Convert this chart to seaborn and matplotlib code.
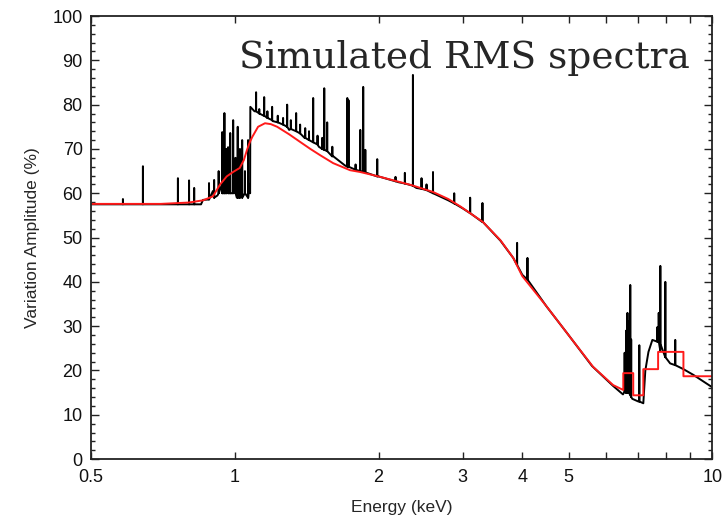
'''
simulated rms spectrum: high-res variation amplitude vs energy with the binned model on top
'''

import numpy as np
import pandas as pd
import matplotlib
matplotlib.use('Agg')
import matplotlib.pyplot as plt
import seaborn as sns

# black curve, continuum (keV, %)
cont_e = [0.5, 0.85, 0.858, 0.88, 0.90, 0.92, 0.94, 0.95, 0.965, 0.98, 0.995, 1.01,
          1.03, 1.05, 1.066, 1.072, 1.077, 1.078, 1.10, 1.15, 1.20, 1.30, 1.40, 1.50,
          1.60, 1.70, 1.83, 2.0, 2.2, 2.4, 2.6, 2.8, 3.0, 3.3, 3.6, 3.83, 4.0, 4.5,
          5.0, 5.6, 6.2, 6.5, 6.6, 6.8, 7.0, 7.17, 7.24, 7.35, 7.49, 7.67, 7.78, 8.16,
          8.70, 9.13, 10.0]
cont_v = [57.5, 57.5, 58.5, 58.6, 60.5, 59.5, 62.0, 60.0, 63.0, 60.0, 62.0, 59.0,
          63.0, 60.0, 59.0, 62.0, 60.0, 79.5, 78.5, 77.5, 76.3, 74.3, 72.5, 70.5,
          68.3, 66.3, 65.0, 63.8, 62.5, 61.2, 60.0, 58.4, 56.6, 53.5, 49.3, 45.4, 41.6, 34.4,
          28.0, 21.0, 16.5, 14.6, 14.9, 13.6, 13.0, 12.6, 20.0, 24.2, 26.9, 26.5, 24.5, 21.6,
          20.3, 19.0, 16.2]

# narrow lines on top of the continuum
spike_e = [0.583, 0.642, 0.760, 0.802, 0.822, 0.883,
           0.905, 0.925, 0.941, 0.951, 0.960, 0.968, 0.978, 0.992, 1.003, 1.014, 1.025,
           1.036, 1.050, 1.066,
           1.108, 1.125, 1.152, 1.17, 1.197, 1.23, 1.262, 1.287, 1.31, 1.344, 1.37, 1.404,
           1.43, 1.459, 1.49, 1.524, 1.539, 1.561, 1.60, 1.72, 1.73, 1.79, 1.831, 1.857,
           1.876, 1.987, 2.17, 2.27, 2.36, 2.46, 2.52, 2.60, 2.88, 3.11, 3.30, 3.90, 4.10,
           6.55, 6.60, 6.64, 6.68, 6.73, 6.76, 7.03, 7.67, 7.72, 7.78, 7.97, 8.36]
spike_lo = [57.5, 57.5, 57.5, 57.5, 57.5, 58.6,
            59.0, 60.0, 60.0, 60.0, 60.0, 60.0, 60.0, 60.0, 60.0, 59.0, 59.0,
            59.0, 60.0, 59.0,
            78.5, 78.0, 77.5, 77.0, 76.5, 76.0, 75.5, 75.0, 74.5, 74.0, 73.5, 72.5,
            72.0, 71.5, 71.0, 70.0, 69.8, 69.5, 68.5, 66.0, 66.0, 65.3, 65.0, 64.8,
            64.7, 63.8, 62.7, 62.2, 61.7, 61.0, 60.7, 60.0, 57.7, 55.5, 53.6, 43.8, 40.5,
            15.2, 15.0, 15.0, 15.0, 14.5, 14.0, 13.0, 26.5, 26.5, 26.0, 23.0, 21.2]
spike_hi = [58.7, 66.1, 63.4, 62.9, 61.2, 62.3,
            63.0, 65.0, 73.8, 78.1, 70.0, 70.4, 73.6, 76.5, 68.0, 75.0, 70.0,
            72.0, 65.0, 72.0,
            82.8, 79.0, 81.7, 78.5, 79.5, 77.5, 77.0, 80.0, 76.5, 78.1, 75.5, 74.7,
            74.0, 81.5, 73.0, 72.5, 83.7, 76.0, 70.5, 81.5, 81.0, 66.5, 74.3, 84.0,
            69.8, 67.7, 63.7, 64.6, 86.7, 63.4, 62.0, 64.8, 60.0, 59.0, 57.8, 48.8, 45.4,
            24.0, 29.0, 33.0, 31.0, 39.3, 27.0, 25.7, 29.8, 33.0, 43.6, 40.0, 26.9]

# red model curve (ends in coarse bins)
model_e = [0.5, 0.7, 0.8, 0.858, 0.90, 0.932, 0.962, 0.992, 1.024, 1.045, 1.061, 1.075,
           1.088, 1.119, 1.157, 1.19, 1.227, 1.30, 1.37, 1.44, 1.509, 1.607, 1.744, 1.83,
           2.0, 2.35, 2.6, 2.8, 2.97, 3.31, 3.6, 3.83, 4.0, 4.51, 5.04, 5.63, 6.2, 6.51,
           6.51, 6.83, 6.83, 7.17, 7.17, 7.70, 7.70, 8.70, 8.70, 10.0]
model_v = [57.6, 57.6, 57.9, 58.4, 59.3, 62.0, 63.8, 64.8, 65.7, 67.5, 69.8, 71.5,
           72.7, 75.0, 75.8, 75.6, 75.0, 73.3, 71.6, 70.0, 68.6, 66.8, 65.2, 64.8,
           63.8, 61.8, 60.3, 58.7, 57.0, 53.5, 49.4, 45.4, 41.3, 34.3, 27.5, 20.8, 16.7, 15.6,
           19.4, 19.4, 14.4, 14.4, 20.3, 20.3, 24.2, 24.2, 18.7, 18.7]

xticks = [0.5, 1, 2, 3, 4, 5, 6, 7, 8, 9, 10]
xlabels = ['0.5', '1', '2', '3', '4', '5', '', '', '', '', '10']

sns.set_style('ticks')
plt.rcParams['font.family'] = ['Liberation Sans', 'DejaVu Sans']

# black line: continuum with the spikes merged in as up-down segments
pts = list(zip(cont_e, cont_v))
for e, lo, hi in zip(spike_e, spike_lo, spike_hi):
    pts += [(e, lo), (e * 1.0004, hi), (e * 1.0008, lo)]
pts.sort(key=lambda p: p[0])
df_black = pd.DataFrame(pts, columns=['energy', 'amp'])
df_red = pd.DataFrame({'energy': model_e, 'amp': model_v})

fig = plt.figure(figsize=(7.25, 5.17), dpi=100)
ax = fig.add_axes([0.1255, 0.112, 0.857, 0.857])

sns.lineplot(data=df_black, x='energy', y='amp', color='black', lw=1.4,
             estimator=None, sort=False, ax=ax)
sns.lineplot(data=df_red, x='energy', y='amp', color='#ff1a1a', lw=1.4,
             estimator=None, sort=False, ax=ax)

ax.set_xscale('log')
ax.set_xlim(0.5, 10)
ax.set_ylim(0, 100)
ax.set_xticks(xticks)
ax.set_xticklabels(xlabels)
ax.xaxis.set_minor_locator(matplotlib.ticker.NullLocator())
ax.set_yticks(np.arange(0, 101, 10))
ax.yaxis.set_minor_locator(matplotlib.ticker.MultipleLocator(2))

ax.tick_params(which='both', direction='in', top=True, right=True, labelsize=13,
               width=1.0, colors='#222222', labelcolor='#111111')
ax.tick_params(axis='x', which='major', length=5, pad=7)
ax.tick_params(axis='y', which='major', length=6, pad=6)
ax.tick_params(axis='y', which='minor', length=3)
for s in ax.spines.values():
    s.set_linewidth(1.3)
    s.set_color('#222222')

ax.set_xlabel('Energy (keV)', size=12.5, labelpad=10)
ax.set_ylabel('Variation Amplitude (%)', size=12.5, labelpad=9)

ax.text(0.9646, 0.8826, 'Simulated RMS spectra', transform=ax.transAxes,
        ha='right', va='baseline', family='DejaVu Serif', size=27)

fig.savefig('out.png', dpi=100)
